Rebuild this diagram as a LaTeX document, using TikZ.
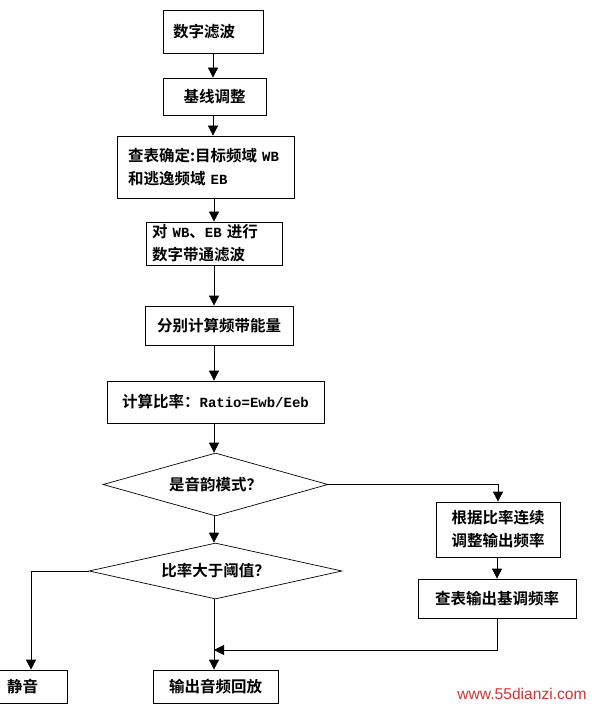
\documentclass[tikz,border=0pt]{standalone}
\usepackage{fontspec}
\setmainfont{Noto Sans CJK SC}[BoldFont={Noto Sans CJK SC Bold}]
\newfontfamily\latinfont{Liberation Mono}
\newfontfamily\sitefont{Liberation Sans}
\usepackage{tikz}
\usetikzlibrary{arrows.meta,positioning,shapes.geometric}
\definecolor{markred}{HTML}{D83030}
\newcommand{\monotext}[1]{{\latinfont\bfseries\fontsize{14}{23}\selectfont #1}}

\begin{document}
\begin{tikzpicture}[
  x=1pt,y=-1pt,
  box/.style={draw=black,line width=0.8pt,fill=white,align=center,inner sep=0pt,font=\bfseries\fontsize{15.5}{23}\selectfont},
  choice/.style={diamond,shape aspect=3.5,draw=black,line width=0.7pt,inner sep=0pt,font=\bfseries\fontsize{15.5}{23}\selectfont},
  arr/.style={-{Triangle[length=10pt,width=10pt]},line width=0.8pt}
]
\useasboundingbox (0,0) rectangle (591,708);
\node[box,minimum width=100,minimum height=43,text width=80,align=left,inner xsep=10] (filt) at (213,31.5) {数字滤波};
\node[box,minimum width=103,minimum height=37] (base) at (214.5,96.5) {基线调整};
\node[box,minimum width=177,minimum height=62,text width=155,align=left,inner xsep=11] (table) at (205.5,167) {查表确定:目标频域 \monotext{WB}\\和逃逸频域 \monotext{EB}};
\node[box,minimum width=136,minimum height=43,text width=124,align=left,inner xsep=6] (band) at (214,243.5) {对 \monotext{WB}、\monotext{EB} 进行\\数字带通滤波};
\node[box,minimum width=148,minimum height=39] (energy) at (219,325.5) {分别计算频带能量};
\node[box,minimum width=217,minimum height=42] (ratio) at (215.5,402) {计算比率：\monotext{Ratio=Ewb/Eeb}};
\node[choice,minimum width=225,minimum height=63] (mode) at (215.5,484.5) {是音韵模式？};
\node[choice,minimum width=253,minimum height=56] (thres) at (215.5,571) {比率大于阈值？};
\node[box,minimum width=124,minimum height=55,align=left] (cont) at (498,529.5) {根据比率连续\\调整输出频率};
\node[box,minimum width=158,minimum height=39] (lookup) at (497,598.5) {查表输出基调频率};
\node[box,minimum width=72,minimum height=33,text width=48,align=left,inner xsep=12] (mute) at (31,686.5) {静音};
\node[box,minimum width=125,minimum height=33] (play) at (215.5,686.5) {输出音频回放};
\coordinate (merge) at (214,650);
\node[font=\sitefont\fontsize{15.6}{18}\selectfont,text=markred,inner sep=0pt] (site) at (522,694) {www.55dianzi.com};
\draw[arr] (filt.south) -- (filt.south |- base.north);
\draw[arr] (filt.south |- base.south) -- (filt.south |- table.north);
\draw[arr] (band.north |- table.south) -- (band.north);
\draw[arr] (band.south) -- (band.south |- energy.north);
\draw[arr] (band.south |- energy.south) -- (band.south |- ratio.north);
\draw[arr] (band.south |- ratio.south) -- (band.south |- mode.north);
\draw[arr] (band.south |- mode.south) -- (band.south |- thres.north);
\draw[arr] (band.south |- thres.south) -- (band.south |- play.north);
\draw[arr] (mode.east) -| (cont.north);
\draw[arr] (cont.south -| lookup) -- (lookup.north);
\draw[arr] (lookup.south) |- (merge);
\draw[arr] (thres.west) -| (mute.north);
\end{tikzpicture}
\end{document}
